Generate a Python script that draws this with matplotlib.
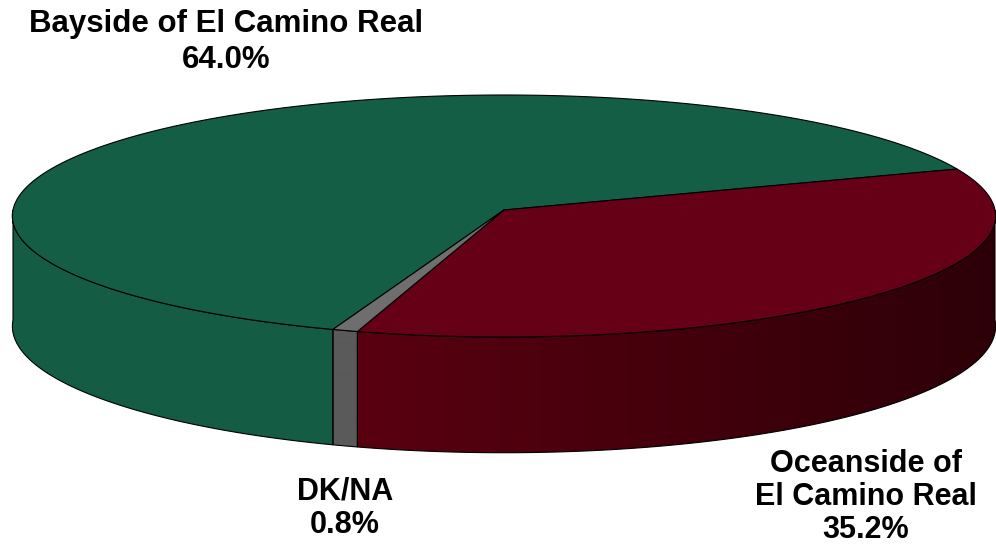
import numpy as np
import matplotlib
matplotlib.use("Agg")
import matplotlib.pyplot as plt
from matplotlib.patches import Polygon

# data
labels = ["Bayside of El Camino Real", "Oceanside of\nEl Camino Real", "DK/NA"]
values = [64.0, 35.2, 0.8]
top_colors = ["#135e45", "#660016", "#6e6e6e"]
side_colors = ["#145c44", "#5a0010", "#5a5a5a"]

# layout of the 3d pie (pixel space)
CX, CY = 504, 210
A, B = 491, 120.7
K = 0.0495
DEPTH = 110
START = 250.6  # degrees, slices run clockwise


def project(t, z=0.0):
    t = np.radians(t)
    s, c = np.sin(t), np.cos(t)
    w = 1 + K * s
    return CX + A * c / w, CY - B * s / w + z * DEPTH / w


def shade(u):
    # light falls off toward the right
    return np.clip(np.where(u < -0.3, 1.0, 1.0 - 0.5 * (u + 0.3) / 1.3), 0.4, 1.0)


fig = plt.figure(figsize=(9.96, 5.48), dpi=100)
ax = fig.add_axes([0, 0, 1, 1])
ax.set_xlim(0, 996)
ax.set_ylim(548, 0)
ax.axis("off")

total = sum(values)
spans = []
hi = START
for v in values:
    lo = hi - v / total * 360
    spans.append((lo, hi))
    hi = lo

# side walls (front half only), shaded with a clipped gradient
for (lo, hi), col in zip(spans, side_colors):
    rgb = np.array(matplotlib.colors.to_rgb(col))
    for k in (-1, 0, 1):
        a0, a1 = max(lo + 360 * k, -180), min(hi + 360 * k, 0)
        if a1 <= a0:
            continue
        ts = np.linspace(a0, a1, max(int((a1 - a0) * 2), 2))
        xt, yt = project(ts, 0)
        xb, yb = project(ts, 1)
        outline = np.vstack([np.column_stack([xt, yt]),
                             np.column_stack([xb[::-1], yb[::-1]])])
        clip = Polygon(outline, closed=True, facecolor="none", edgecolor="none")
        ax.add_patch(clip)
        x0, x1 = outline[:, 0].min(), outline[:, 0].max()
        y0, y1 = outline[:, 1].min(), outline[:, 1].max()
        xs = np.linspace(x0, x1, 400)
        u = (xs - CX) / A
        img = (rgb[None, :] * shade(u)[:, None])[None, :, :]
        im = ax.imshow(img, extent=(x0, x1, y1, y0), aspect="auto",
                       interpolation="bilinear", zorder=1)
        im.set_clip_path(clip)
        ax.add_patch(Polygon(outline, closed=True, fill=False,
                             edgecolor="black", linewidth=0.8, zorder=2))

# top faces
for (lo, hi), col in zip(spans, top_colors):
    ts = np.linspace(lo, hi, max(int((hi - lo) * 2), 2))
    x, y = project(ts, 0)
    pts = np.vstack([[CX, CY], np.column_stack([x, y])])
    ax.add_patch(Polygon(pts, closed=True, facecolor=col,
                         edgecolor="black", linewidth=0.8, zorder=3))

ax.set_xlim(0, 996)
ax.set_ylim(548, 0)

# labels
font = dict(family=["Liberation Sans", "DejaVu Sans"], weight="bold",
            ha="center", va="center", color="black")
ax.text(226, 42, f"{labels[0]}\n{values[0]:.1f}%", fontsize=22.5,
        linespacing=1.22, **font)
ax.text(866, 497, f"{labels[1]}\n{values[1]:.1f}%", fontsize=22,
        linespacing=1.15, **font)
ax.text(345, 508, f"{labels[2]}\n{values[2]:.1f}%", fontsize=22,
        linespacing=1.15, **font)

fig.savefig("out.png", dpi=100)
